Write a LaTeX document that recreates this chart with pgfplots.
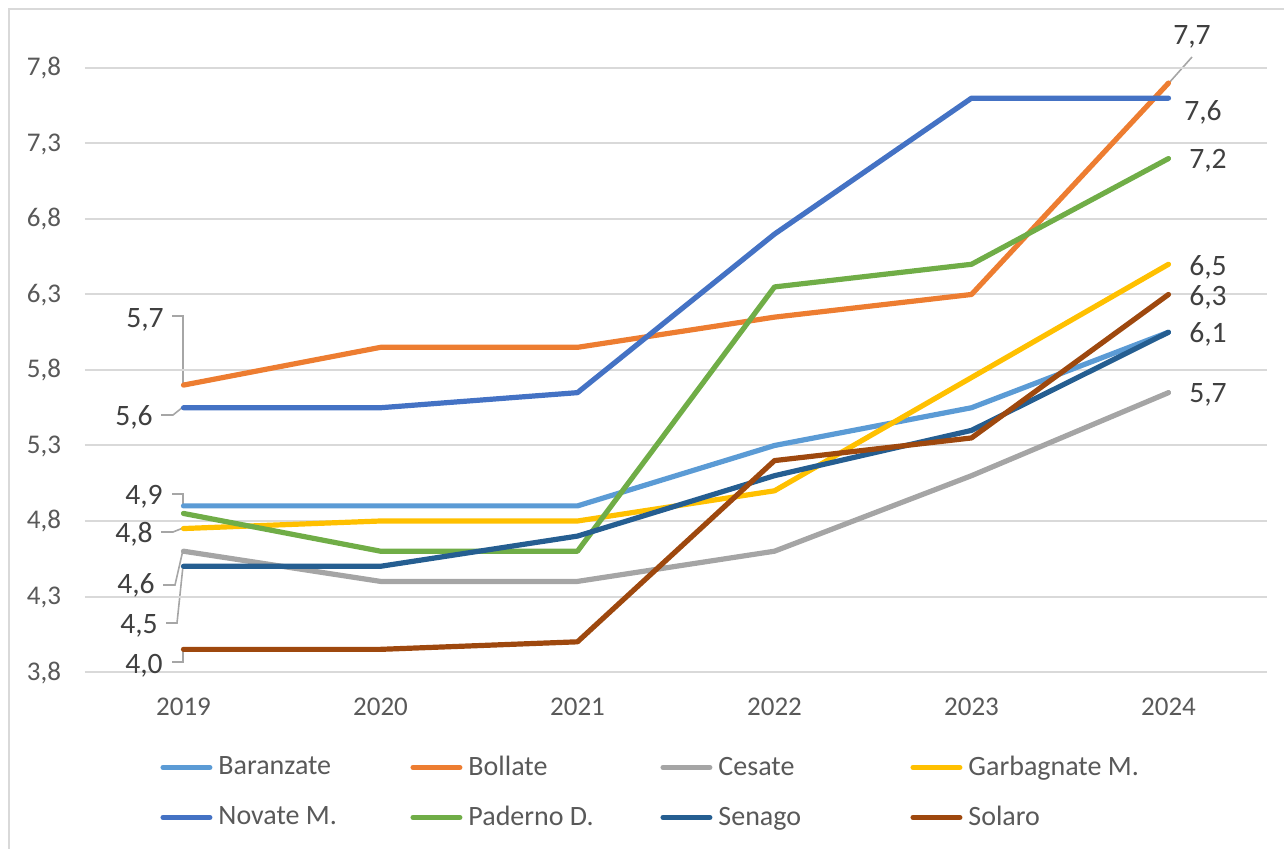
\documentclass[border=0pt]{standalone}
\usepackage{pgfplots}
\pgfplotsset{compat=1.18}
\usepackage{fontspec}
\setmainfont{Carlito}
\definecolor{cBar}{HTML}{5B9BD5}
\definecolor{cBol}{HTML}{ED7D31}
\definecolor{cCes}{HTML}{A5A5A5}
\definecolor{cGar}{HTML}{FFC000}
\definecolor{cNov}{HTML}{4472C4}
\definecolor{cPad}{HTML}{70AD47}
\definecolor{cSen}{HTML}{255E91}
\definecolor{cSol}{HTML}{9E480E}
\definecolor{gridc}{HTML}{D9D9D9}
\definecolor{tickc}{HTML}{595959}
\definecolor{lblc}{HTML}{404040}
\definecolor{leadc}{HTML}{A6A6A6}
\begin{document}
\begin{tikzpicture}
\useasboundingbox (-42.5pt,-88pt) rectangle (599.5pt,336pt);
\draw[gridc, line width=1pt] (-38pt,-95pt) -- (-38pt,331.5pt) -- (610pt,331.5pt);
% leader lines (pixel coordinates)
\begin{scope}[x=0.5pt, y=-0.5pt, shift={(-42.5pt,336pt)}, leadc, line width=0.8pt]
\draw (172,316)--(183,316)--(183,384);
\draw (161,415)--(173,415)--(183,407);
\draw (172,494)--(183,494)--(183,506);
\draw (161,532)--(173,532)--(183,528);
\draw (163,585)--(175,585)--(183,550);
\draw (166,623)--(177,623)--(183,566);
\draw (172,662)--(183,662)--(183,648);
\draw (1192,57)--(1168,84);
\end{scope}
\begin{axis}[
  scale only axis, width=591pt, height=336pt,
  xmin=-0.5, xmax=5.5, ymin=3.8, ymax=8.25,
  clip=false,
  axis line style={draw=none},
  major tick length=0pt,
  xtick={0,1,2,3,4,5},
  xticklabels={2019,2020,2021,2022,2023,2024},
  ytick={3.8,4.3,4.8,5.3,5.8,6.3,6.8,7.3,7.8},
  ymajorgrids,
  grid style={gridc, line width=1pt},
  ticklabel style={font=\fontsize{13.5}{16}\selectfont, text=tickc},
  yticklabel style={/pgf/number format/use comma, /pgf/number format/fixed, /pgf/number format/fixed zerofill, /pgf/number format/precision=1, /pgf/number format/assume math mode=true, anchor=base east, xshift=-8.5pt, yshift=-4pt},
  xticklabel style={anchor=base, yshift=-21.5pt},
  every axis plot/.append style={line width=2.6pt, line cap=round, line join=round},
  legend columns=4,
  legend style={at={(axis description cs:0.0635,-0.1042)}, anchor=north west, draw=none, fill=none,
    inner sep=0pt, row sep=0pt,
    font=\fontsize{14}{16}\selectfont, text=tickc,
    nodes={inner sep=0pt, minimum height=25pt},
    /tikz/every odd column/.append style={column sep=3pt}},
  legend cell align=left,
  legend image code/.code={\draw[#1, line width=2.6pt, line cap=round] (1.3pt,0pt) -- (24.7pt,0pt);},
]
\addplot[cBar] coordinates {(0,4.9) (1,4.9) (2,4.9) (3,5.3) (4,5.55) (5,6.05)};
\addlegendentry{\makebox[96pt][l]{Baranzate}}
\addplot[cBol] coordinates {(0,5.7) (1,5.95) (2,5.95) (3,6.15) (4,6.3) (5,7.7)};
\addlegendentry{\makebox[96pt][l]{Bollate}}
\addplot[cCes] coordinates {(0,4.6) (1,4.4) (2,4.4) (3,4.6) (4,5.1) (5,5.65)};
\addlegendentry{\makebox[96pt][l]{Cesate}}
\addplot[cGar] coordinates {(0,4.75) (1,4.8) (2,4.8) (3,5.0) (4,5.75) (5,6.5)};
\addlegendentry{\makebox[96pt][l]{Garbagnate M.}}
\addplot[cNov] coordinates {(0,5.55) (1,5.55) (2,5.65) (3,6.7) (4,7.6) (5,7.6)};
\addlegendentry{\makebox[96pt][l]{Novate M.}}
\addplot[cPad] coordinates {(0,4.85) (1,4.6) (2,4.6) (3,6.35) (4,6.5) (5,7.2)};
\addlegendentry{\makebox[96pt][l]{Paderno D.}}
\addplot[cSen] coordinates {(0,4.5) (1,4.5) (2,4.7) (3,5.1) (4,5.4) (5,6.05)};
\addlegendentry{\makebox[96pt][l]{Senago}}
\addplot[cSol] coordinates {(0,3.95) (1,3.95) (2,4.0) (3,5.2) (4,5.35) (5,6.3)};
\addlegendentry{\makebox[96pt][l]{Solaro}}
\end{axis}
% data labels (pixel coordinates)
\begin{scope}[x=0.5pt, y=-0.5pt, shift={(-42.5pt,336pt)}]
\tikzset{lbl/.style={anchor=base, inner sep=0pt, text=lblc, font=\fontsize{14.8}{17}\selectfont}}
\node[lbl] at (145,327) {5,7};
\node[lbl] at (134,425) {5,6};
\node[lbl] at (144,504) {4,9};
\node[lbl] at (134,542) {4,8};
\node[lbl] at (136,593) {4,6};
\node[lbl] at (139,633) {4,5};
\node[lbl] at (144,673) {4,0};
\node[lbl] at (1192,44) {7,7};
\node[lbl] at (1203,120) {7,6};
\node[lbl] at (1208,168) {7,2};
\node[lbl] at (1208,275) {6,5};
\node[lbl] at (1208,305) {6,3};
\node[lbl] at (1208,342) {6,1};
\node[lbl] at (1208,402) {5,7};
\end{scope}
\end{tikzpicture}
\end{document}
